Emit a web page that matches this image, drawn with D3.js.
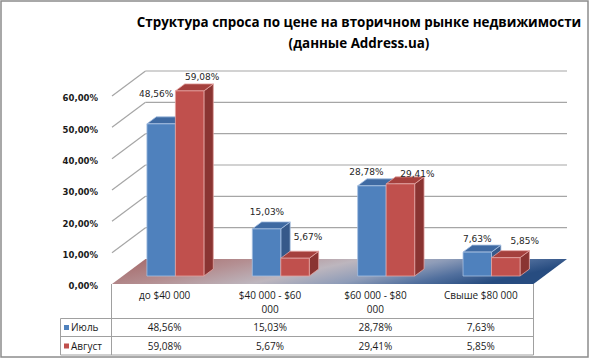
<!DOCTYPE html>
<html><head><meta charset="utf-8">
<script src="https://cdn.jsdelivr.net/npm/d3@7"></script>
<style>body{margin:0;background:#fff} svg{display:block}</style>
</head><body><svg id="c" width="590" height="359"></svg>
<script>
// ---- data ----
const categories = ["до $40 000", "$40 000 - $60 000", "$60 000 - $80 000", "Свыше $80 000"];
const categoryLines = [["до $40 000"], ["$40 000 - $60", "000"], ["$60 000 - $80", "000"], ["Свыше $80 000"]];
const seriesNames = ["Июль", "Август"];
const july = [48.56, 15.03, 28.78, 7.63];
const august = [59.08, 5.67, 29.41, 5.85];
const yTicks = [0, 10, 20, 30, 40, 50, 60];
const titleLines = ["Структура спроса по цене на вторичном рынке недвижимости", "(данные Address.ua)"];

// ---- layout ----
const svg = d3.select("#c");
const W = 590, H = 359;
const DX = 33.5, DY = -25;          // full depth offset
const F1 = 0.32, F2 = 0.60;         // bar front/back depth fractions
const colors = {
  blue: {front: "#4F81BD", side: "#36598A", top: "#3F6AA2", edge: "#A7C0E2"},
  red: {front: "#C0504D", side: "#8A3432", top: "#A5403D", edge: "#E3A3A1"}
};
const seriesColors = [colors.blue, colors.red];
const seriesValues = [july, august];

const y = d3.scaleLinear().domain([0, 60]).range([284, 96]);
const x0 = d3.scaleBand().domain(categories).range([112, 533.5]).padding(0);
const groupW = 57;
const x1 = d3.scaleBand().domain(seriesNames).range([0, groupW]).padding(0);
const P = (x, v, f) => [x + f * DX, y(v) + f * DY];
const fmt = v => d3.format(".2f")(v).replace(".", ",") + "%";

// outer border
svg.append("rect").attr("x", 1).attr("y", 1).attr("width", 587).attr("height", 356)
  .attr("fill", "#fff").attr("stroke", "#8c8c8c").attr("stroke-width", 1.5);

// title
const tg = svg.append("g");
titleLines.forEach((t, i) => {
  tg.append("text").attr("x", 359).attr("y", 27 + i * 21).attr("text-anchor", "middle")
    .attr("font-family", "Open Sans").attr("font-weight", "bold").attr("font-size", 15)
    .attr("fill", "#000").text(t);
});
// fit first line width to reference (~445px)
const t0 = tg.select("text").node();
const scale = 445 / t0.getComputedTextLength();
tg.selectAll("text").attr("font-size", 15 * scale);

// back wall gridlines and left wall diagonals
const grid = svg.append("g").attr("stroke", "#a6a6a6").attr("stroke-width", 1.2).attr("fill", "none");
yTicks.filter(v => v > 0).forEach(v => {
  const a = P(x0.range()[0], v, 1), b = P(x0.range()[1], v, 1);
  grid.append("line").attr("x1", a[0]).attr("y1", a[1]).attr("x2", b[0]).attr("y2", b[1]);
  const c = P(x0.range()[0], v, 0);
  grid.append("line").attr("x1", c[0]).attr("y1", c[1]).attr("x2", a[0]).attr("y2", a[1]);
});

// floor
const defs = svg.append("defs");
const fg = defs.append("linearGradient").attr("id", "floor").attr("x1", 0).attr("y1", 0).attr("x2", 1).attr("y2", 0.25);
[[0, "#A46565"], [0.3, "#B48F92"], [0.52, "#BDB6BE"], [0.7, "#8E9CB8"], [0.85, "#52709E"], [1, "#274C80"]]
  .forEach(([o, c]) => fg.append("stop").attr("offset", o).attr("stop-color", c));
const fl = [P(x0.range()[0], 0, 0), P(x0.range()[1], 0, 0), P(x0.range()[1], 0, 1), P(x0.range()[0], 0, 1)];
svg.append("polygon").attr("points", fl.map(p => p.join(",")).join(" ")).attr("fill", "url(#floor)");

// bars
const bars = svg.append("g");
const ddx = (F2 - F1) * DX, ddy = (F2 - F1) * DY;
const barInfo = [];
categories.forEach((cat, i) => {
  seriesNames.forEach((s, j) => {
    const v = seriesValues[j][i];
    const col = seriesColors[j];
    const xl = x0(cat) + (x0.bandwidth() - groupW) / 2 + x1(s) + F1 * DX;
    const w = x1.bandwidth();
    const yt = y(v) + F1 * DY, yb = y(0) + F1 * DY;
    const g = bars.append("g").attr("stroke", col.edge).attr("stroke-width", 0.8).attr("stroke-linejoin", "round");
    g.append("polygon").attr("points", [[xl + w, yt], [xl + w + ddx, yt + ddy], [xl + w + ddx, yb + ddy], [xl + w, yb]].map(p => p.join(",")).join(" "))
      .attr("fill", col.side);
    g.append("polygon").attr("points", [[xl, yt], [xl + w, yt], [xl + w + ddx, yt + ddy], [xl + ddx, yt + ddy]].map(p => p.join(",")).join(" "))
      .attr("fill", col.top);
    g.append("rect").attr("x", xl).attr("y", yt).attr("width", w).attr("height", yb - yt).attr("fill", col.front);
    barInfo.push({i, j, v, cx: xl + w / 2, yt});
  });
});

// data labels (nudges per label, to mimic the reference placement)
const labelNudge = [[[-5, -30], [12.5, -14.5]], [[0.5, -17], [13, -21]], [[-5.5, -13.5], [17, -10]], [[0, -13], [19, -16.5]]];
svg.append("g").selectAll("text").data(barInfo).join("text")
  .attr("x", d => d.cx + labelNudge[d.i][d.j][0])
  .attr("y", d => d.yt + labelNudge[d.i][d.j][1])
  .attr("dy", "0.35em").attr("text-anchor", "middle")
  .attr("font-family", "DejaVu Sans").attr("font-size", 9).attr("fill", "#262626")
  .text(d => fmt(d.v));

// y-axis tick labels
svg.append("g").selectAll("text").data(yTicks).join("text")
  .attr("x", 98).attr("y", d => y(d) + 2.5).attr("dy", "0.35em").attr("text-anchor", "end")
  .attr("font-family", "DejaVu Sans").attr("font-weight", "bold").attr("font-size", 8.5).attr("fill", "#1a1a1a")
  .text(d => d3.format(".2f")(d).replace(".", ",") + "%");

// data table
const tb = svg.append("g").attr("stroke", "#a0a0a0").attr("stroke-width", 1);
const L = 60.5, X0 = 111.5, XR = 533.5, R1 = 318.5, R2 = 336.5, R3 = 355;
[[L, R1, XR, R1], [L, R2, XR, R2], [L, R3, XR, R3], [L, R1, L, R3], [X0, 284, X0, R3], [XR, 284, XR, R3]]
  .forEach(([a, b, c, d]) => tb.append("line").attr("x1", a).attr("y1", b).attr("x2", c).attr("y2", d));

const txt = svg.append("g").attr("font-family", "Open Sans").attr("font-size", 10).attr("fill", "#1a1a1a");
categories.forEach((cat, i) => {
  const cx = x0(cat) + x0.bandwidth() / 2;
  categoryLines[i].forEach((ln, k) => {
    txt.append("text").attr("x", cx).attr("y", 295 + k * 14).attr("dy", "0.35em").attr("text-anchor", "middle").text(ln);
  });
  seriesValues.forEach((vals, j) => {
    txt.append("text").attr("x", cx).attr("y", 327.5 + j * 18.5).attr("dy", "0.35em").attr("text-anchor", "middle").text(fmt(vals[j === 0 ? i : i]));
  });
});
seriesNames.forEach((s, j) => {
  const yy = 327.5 + j * 18.5;
  svg.append("rect").attr("x", 64).attr("y", yy - 2.5).attr("width", 5).attr("height", 5).attr("fill", seriesColors[j].front);
  txt.append("text").attr("x", 71).attr("y", yy).attr("dy", "0.35em").text(s);
});
</script></body></html>
